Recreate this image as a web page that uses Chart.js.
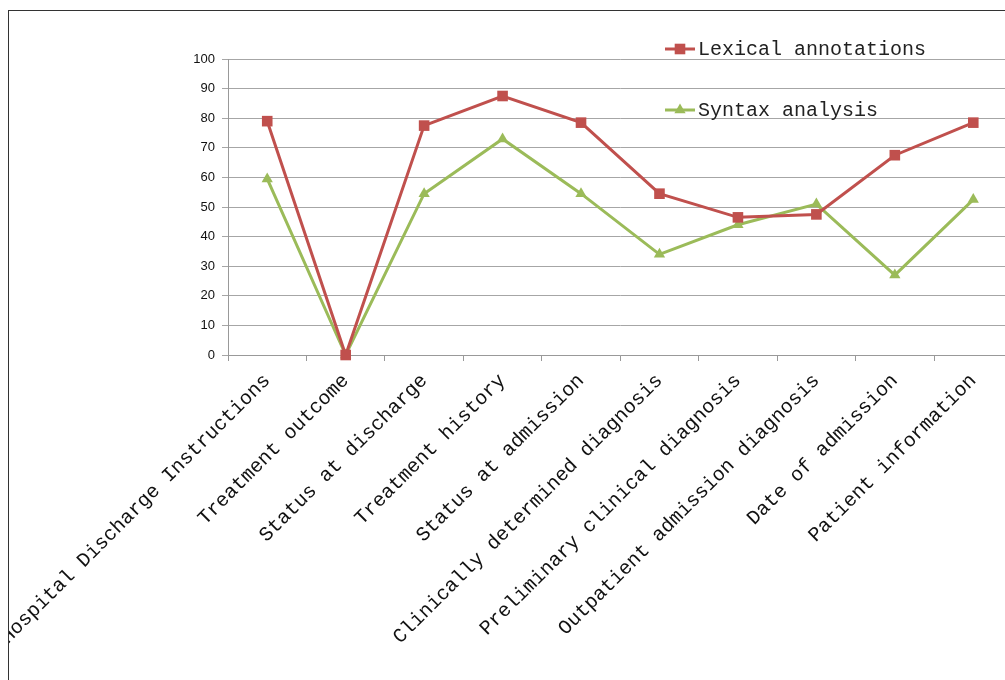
<!DOCTYPE html>
<html>
<head>
<meta charset="utf-8">
<title>Lexical annotations vs Syntax analysis</title>
<script src="https://cdn.jsdelivr.net/npm/chart.js@4"></script>
<style>
    html, body { margin: 0; padding: 0; background: #fff; }
    #page { position: relative; width: 1005px; height: 680px; overflow: hidden; }
    #frame { position: absolute; left: 8px; top: 10px; width: 1100px; height: 800px;
             border: 1px solid #333; overflow: hidden; }
    #wrap { position: absolute; left: -9px; top: -11px; width: 1020px; height: 680px; }
</style>
</head>
<body>
<div id="page">
    <div id="frame">
        <div id="wrap"><canvas id="lineChart"></canvas></div>
    </div>
</div>
<script>
// Chart data
const categories = [
    'Hospital Discharge Instructions',
    'Treatment outcome',
    'Status at discharge',
    'Treatment history',
    'Status at admission',
    'Clinically determined diagnosis',
    'Preliminary clinical diagnosis',
    'Outpatient admission diagnosis',
    'Date of admission',
    'Patient information'
];
const lexicalValues = [79, 0, 77.5, 87.5, 78.5, 54.5, 46.5, 47.5, 67.5, 78.5];
const syntaxValues = [59.5, 0, 54.5, 73, 54.5, 34, 44, 51, 27, 52.5];
const yMin = 0;
const yMax = 100;
const yStep = 10;

const labelFont = '"Liberation Mono", "DejaVu Sans Mono", monospace';

// Legend drawn inside the plot area, top right
const insideLegend = {
    id: 'insideLegend',
    afterDatasetsDraw(chart, args, opts) {
        const ctx = chart.ctx;
        chart.data.datasets.forEach((ds, i) => {
            const x = opts.left;
            const y = opts.top + i * opts.spacing;
            const mid = x + opts.lineLength / 2;
            ctx.save();
            ctx.strokeStyle = ds.borderColor;
            ctx.fillStyle = ds.borderColor;
            ctx.lineWidth = ds.borderWidth;
            ctx.beginPath();
            ctx.moveTo(x, y);
            ctx.lineTo(x + opts.lineLength, y);
            ctx.stroke();
            ctx.beginPath();
            if (ds.pointStyle === 'rect') {
                const s = ds.pointRadius / Math.SQRT2;
                ctx.rect(mid - s, y - s, 2 * s, 2 * s);
            } else {
                const r = ds.pointRadius;
                ctx.moveTo(mid, y - r);
                ctx.lineTo(mid + r * Math.sin(Math.PI * 2 / 3), y + r / 2);
                ctx.lineTo(mid - r * Math.sin(Math.PI * 2 / 3), y + r / 2);
                ctx.closePath();
            }
            ctx.fill();
            ctx.fillStyle = '#222';
            ctx.font = '20px ' + labelFont;
            ctx.textBaseline = 'middle';
            ctx.textAlign = 'left';
            ctx.fillText(ds.label, x + opts.lineLength + 3, y + 1);
            ctx.restore();
        });
    }
};

new Chart(document.getElementById('lineChart'), {
    type: 'line',
    data: {
        labels: categories,
        datasets: [{
            label: 'Lexical annotations',
            data: lexicalValues,
            borderColor: '#c0504d',
            backgroundColor: '#c0504d',
            borderWidth: 3,
            pointStyle: 'rect',
            pointRadius: 7.5,
            pointBorderWidth: 0,
            tension: 0,
            clip: false
        }, {
            label: 'Syntax analysis',
            data: syntaxValues,
            borderColor: '#9bbb59',
            backgroundColor: '#9bbb59',
            borderWidth: 3,
            pointStyle: 'triangle',
            pointRadius: 6.5,
            pointBorderWidth: 0,
            tension: 0,
            clip: false
        }]
    },
    options: {
        responsive: true,
        maintainAspectRatio: false,
        animation: false,
        layout: {
            padding: { left: 168, top: 59, right: 2, bottom: 0 }
        },
        plugins: {
            legend: { display: false },
            tooltip: { enabled: false },
            insideLegend: { left: 665, top: 49, spacing: 61, lineLength: 30 }
        },
        scales: {
            x: {
                offset: true,
                grid: {
                    offset: true,
                    drawOnChartArea: false,
                    drawTicks: true,
                    tickLength: 6,
                    color: '#999'
                },
                border: { color: '#999' },
                ticks: {
                    autoSkip: false,
                    minRotation: 45,
                    maxRotation: 45,
                    padding: 8,
                    color: '#111',
                    font: { family: labelFont, size: 20 }
                },
                afterFit(scale) {
                    scale.height = 680 - 355;
                    scale.paddingLeft = 0;
                    scale.paddingRight = 0;
                }
            },
            y: {
                min: yMin,
                max: yMax,
                ticks: {
                    stepSize: yStep,
                    padding: 7,
                    color: '#111',
                    font: { family: '"Liberation Sans", Arial, sans-serif', size: 13 }
                },
                grid: { color: '#a6a6a6', tickLength: 6 },
                border: { color: '#999' },
                afterFit(scale) {
                    scale.width = 60;
                }
            }
        }
    },
    plugins: [insideLegend]
});
</script>
</body>
</html>
